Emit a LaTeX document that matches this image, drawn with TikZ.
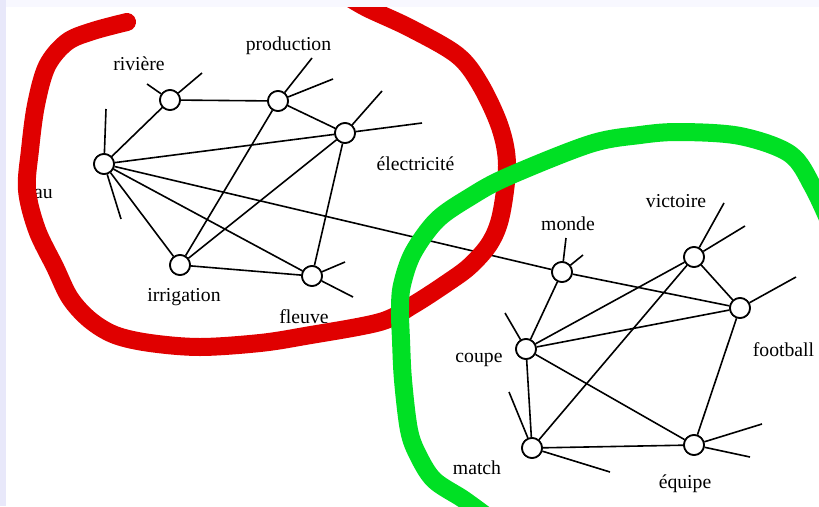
\documentclass[tikz,border=0pt]{standalone}
\usepackage{fontspec}
\setmainfont{Liberation Serif}
\definecolor{bandL}{RGB}{232,232,250}
\definecolor{bandT}{RGB}{248,248,255}
\definecolor{markred}{RGB}{224,0,0}
\definecolor{markgreen}{RGB}{0,224,36}
\begin{document}
\begin{tikzpicture}[x=1pt,y=-1pt,
  vertex/.style={draw,circle,fill=white,minimum size=20pt,inner sep=0pt,line width=1.7pt},
  lbl/.style={anchor=base,inner sep=0pt,font=\fontsize{19.7}{22}\selectfont},
  edge/.style={line width=1.6pt},
  marker/.style={line width=18pt,line cap=round,line join=round}]
\useasboundingbox (0,0) rectangle (819,506);
\fill[bandL] (0,0) rectangle (6,506);
\fill[bandT] (6,0) rectangle (819,7);
\fill[white] (6,7) rectangle (819,506);

% red cluster nodes
\node[vertex] (eau) at (104,164) {};
\node[vertex] (riv) at (170,100) {};
\node[vertex] (prod) at (278,101) {};
\node[vertex] (elec) at (345,133) {};
\node[vertex] (irr) at (180,265) {};
\node[vertex] (fleu) at (312,276) {};
% green cluster nodes
\node[vertex] (monde) at (562,272) {};
\node[vertex] (vict) at (694,257) {};
\node[vertex] (foot) at (740,308) {};
\node[vertex] (coupe) at (526,349) {};
\node[vertex] (match) at (532,448) {};
\node[vertex] (equi) at (694,445) {};

% labels
\node[lbl,anchor=base east] (leau) at (53,198) {eau};
\node[lbl] (lriv) at (139,70.5) {rivière};
\node[lbl] (lprod) at (288.5,50) {production};
\node[lbl] (lelec) at (415.5,170) {électricité};
\node[lbl] (lirr) at (184,301) {irrigation};
\node[lbl] (lfleu) at (304,323) {fleuve};
\node[lbl] (lmonde) at (568,230) {monde};
\node[lbl] (lvict) at (676,207) {victoire};
\node[lbl] (lfoot) at (783.5,356) {football};
\node[lbl] (lcoupe) at (479,362) {coupe};
\node[lbl] (lmatch) at (477,474) {match};
\node[lbl] (lequi) at (685,488) {équipe};

% stub ends
\coordinate (se1) at (106,109);
\coordinate (se2) at (121,219);
\coordinate (sr1) at (147,84);
\coordinate (sr2) at (202,73);
\coordinate (sp1) at (312,58);
\coordinate (sp2) at (333,79);
\coordinate (sl1) at (382,91);
\coordinate (sl2) at (422,123);
\coordinate (sf1) at (345,262);
\coordinate (sf2) at (353,297);
\coordinate (sm1) at (566,238);
\coordinate (sm2) at (583,255);
\coordinate (sv1) at (724,203);
\coordinate (sv2) at (745,226);
\coordinate (sfo) at (796,277);
\coordinate (sc) at (505,313);
\coordinate (sma1) at (509,392);
\coordinate (sma2) at (610,472);
\coordinate (sq1) at (762,424);
\coordinate (sq2) at (750,457);

\begin{scope}[edge]
% red cluster edges
\draw (eau) -- (riv);
\draw (riv) -- (prod);
\draw (prod) -- (elec);
\draw (eau) -- (elec);
\draw (eau) -- (irr);
\draw (eau) -- (fleu);
\draw (eau) -- (monde);
\draw (prod) -- (irr);
\draw (elec) -- (irr);
\draw (elec) -- (fleu);
\draw (irr) -- (fleu);
% green cluster edges
\draw (monde) -- (foot);
\draw (monde) -- (coupe);
\draw (coupe) -- (vict);
\draw (coupe) -- (foot);
\draw (coupe) -- (equi);
\draw (coupe) -- (match);
\draw (vict) -- (foot);
\draw (vict) -- (match);
\draw (foot) -- (equi);
\draw (match) -- (equi);
% stubs
\draw (eau) -- (se1); \draw (eau) -- (se2);
\draw (riv) -- (sr1); \draw (riv) -- (sr2);
\draw (prod) -- (sp1); \draw (prod) -- (sp2);
\draw (elec) -- (sl1); \draw (elec) -- (sl2);
\draw (fleu) -- (sf1); \draw (fleu) -- (sf2);
\draw (monde) -- (sm1); \draw (monde) -- (sm2);
\draw (vict) -- (sv1); \draw (vict) -- (sv2);
\draw (foot) -- (sfo);
\draw (coupe) -- (sc);
\draw (match) -- (sma1); \draw (match) -- (sma2);
\draw (equi) -- (sq1); \draw (equi) -- (sq2);
\end{scope}

% redraw circles on top of edges
\foreach \n in {eau,riv,prod,elec,irr,fleu,monde,vict,foot,coupe,match,equi}
  \node[vertex] at (\n) {};

% hand-drawn markers
\begin{scope}
\clip (6,7) rectangle (819,506);
\draw[marker,markred] plot[smooth,tension=0.55] coordinates {
  (127,22) (93,31) (67,42) (47,66) (36,105) (30,150) (27,190) (37,230)
  (55,267) (70,298) (90,320) (115,335) (150,343) (200,347) (260,343) (305,336)
  (380,322) (413,305) (447,283) (470,266) (490,243) (501,215) (507,165)
  (500,127) (480,84) (457,55) (410,28) (367,8) (345,-5)};
\draw[marker,markgreen] plot[smooth,tension=0.55] coordinates {
  (832,228) (813,187) (790,154) (740,136) (680,132) (640,135) (590,144)
  (507,177) (470,197) (437,220) (413,253) (402,285) (400,310) (401,340)
  (403,380) (409,430) (418,455) (434,480) (463,499) (485,515)};
\end{scope}
\end{tikzpicture}
\end{document}
